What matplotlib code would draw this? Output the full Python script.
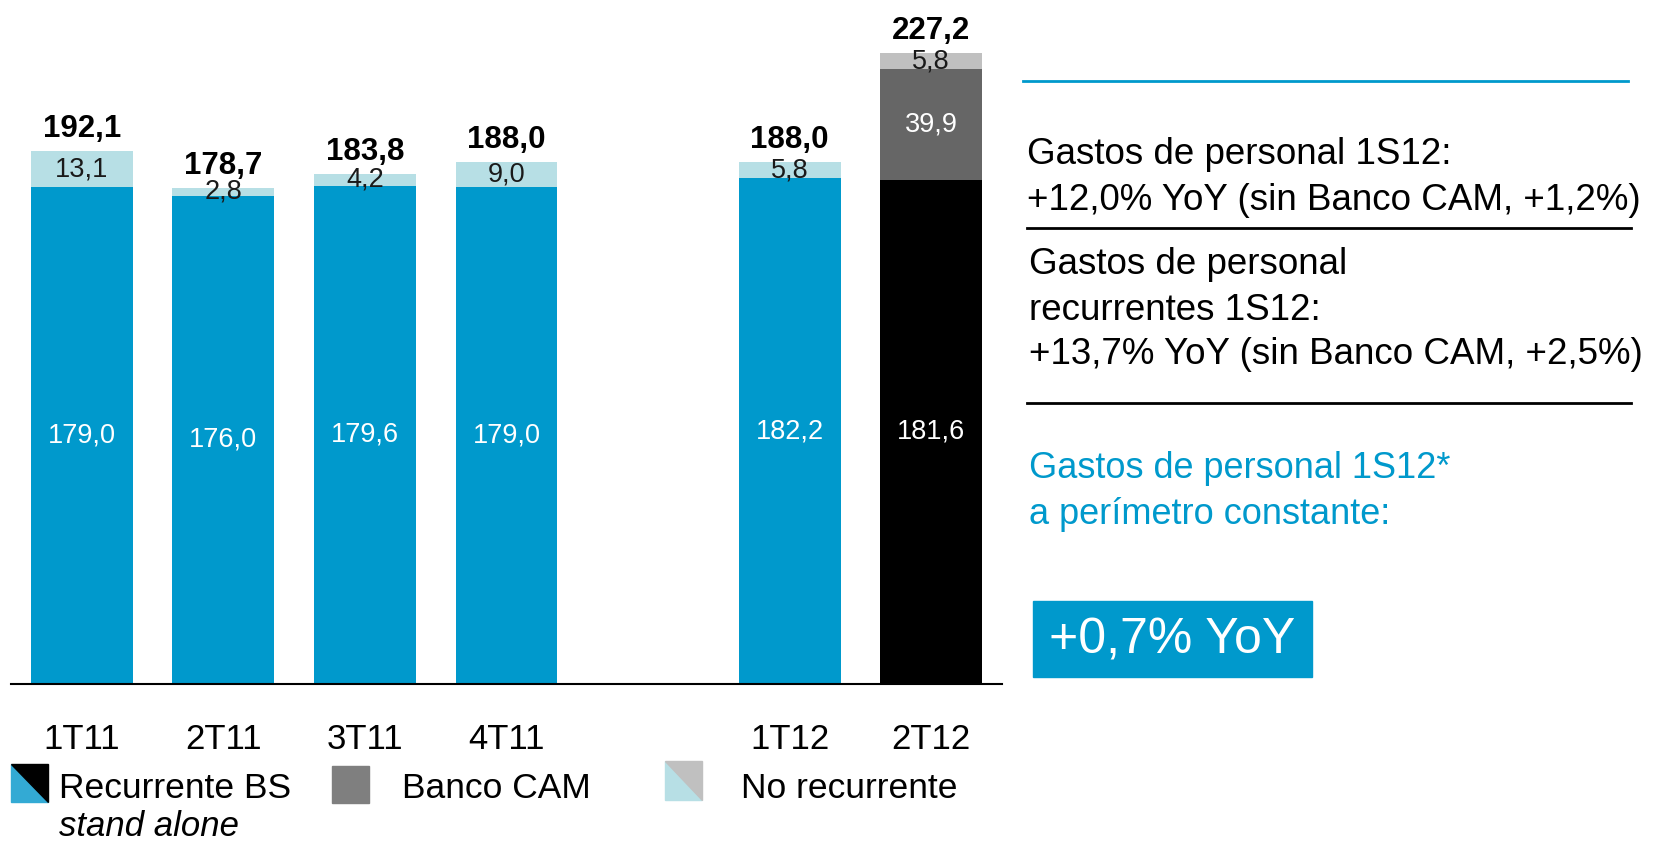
import numpy as np
import matplotlib
matplotlib.use('Agg')
from matplotlib import pyplot as plt
from matplotlib.patches import Polygon, Rectangle

plt.rcParams['font.family'] = ['Liberation Sans', 'DejaVu Sans']

# data
categories = ['1T11', '2T11', '3T11', '4T11', '1T12', '2T12']
positions = [0, 1, 2, 3, 5, 6]
recurrente = [179.0, 176.0, 179.6, 179.0, 182.2, 181.6]
banco_cam = [0, 0, 0, 0, 0, 39.9]
no_recurrente = [13.1, 2.8, 4.2, 9.0, 5.8, 5.8]
totals = [192.1, 178.7, 183.8, 188.0, 188.0, 227.2]

blue = '#0099cc'
light_blue = '#b7dfe5'
grey_cam = '#666666'
light_grey = '#c0c0c0'

W, H = 1668, 846
fig = plt.figure(figsize=(W / 100, H / 100), dpi=100)

ax = fig.add_axes([11 / W, (H - 684) / H, (1002 - 11) / W, 680 / H])
x = np.array(positions)
rec_colors = [blue] * 5 + ['black']
nr_colors = [light_blue] * 5 + [light_grey]
rec = np.array(recurrente)
cam = np.array(banco_cam)
nr = np.array(no_recurrente)

ax.bar(x, rec, width=0.72, color=rec_colors)
ax.bar(x, cam, width=0.72, bottom=rec, color=grey_cam)
ax.bar(x, nr, width=0.72, bottom=rec + cam, color=nr_colors)


def fmt(v):
    return ('%.1f' % v).replace('.', ',')


for i in range(len(x)):
    ax.text(x[i], rec[i] / 2, fmt(rec[i]), ha='center', va='center',
            color='white', fontsize=19.5)
    if cam[i] > 0:
        ax.text(x[i], rec[i] + cam[i] / 2, fmt(cam[i]), ha='center',
                va='center', color='white', fontsize=19.5)
    ax.text(x[i], rec[i] + cam[i] + nr[i] / 2, fmt(nr[i]), ha='center',
            va='center', color='#1a1a1a', fontsize=19.5)
    ax.text(x[i], totals[i] + 8, fmt(totals[i]), ha='center',
            va='center', color='black', fontsize=22.5, fontweight='bold')

ax.set_xlim(-0.5, 6.5)
ax.set_ylim(0, 245)
for s in ['top', 'right', 'left']:
    ax.spines[s].set_visible(False)
ax.spines['bottom'].set_linewidth(1.5)
ax.set_yticks([])
ax.set_xticks(x)
ax.set_xticklabels(categories, fontsize=25)
ax.tick_params(axis='x', length=0, pad=28)

# overlay in pixel coords for legend and side notes
ov = fig.add_axes([0, 0, 1, 1])
ov.set_xlim(0, W)
ov.set_ylim(H, 0)
ov.axis('off')

# legend
ov.add_patch(Polygon([[11, 764], [11, 802], [48, 802]], color='#33aad4'))
ov.add_patch(Polygon([[11, 764], [48, 764], [48, 802]], color='black'))
ov.text(59, 789, 'Recurrente BS', fontsize=25.5, va='center')
ov.text(59, 826, 'stand alone', fontsize=25, va='center', style='italic')
ov.add_patch(Rectangle((332, 766), 37, 37, color='#7f7f7f'))
ov.text(402, 789, 'Banco CAM', fontsize=25.5, va='center')
ov.add_patch(Polygon([[665, 761], [665, 800], [702, 800]], color=light_blue))
ov.add_patch(Polygon([[665, 761], [702, 761], [702, 800]], color=light_grey))
ov.text(741, 789, 'No recurrente', fontsize=25.5, va='center')

# side notes
ov.plot([1023, 1628], [81, 81], color=blue, lw=2)
ov.text(1027, 155, 'Gastos de personal 1S12:', fontsize=26.5, va='center')
ov.text(1027, 200, '+12,0% YoY (sin Banco CAM, +1,2%)', fontsize=26.5, va='center')
ov.plot([1027, 1631], [228, 228], color='black', lw=2)
ov.text(1029, 265, 'Gastos de personal', fontsize=26.5, va='center')
ov.text(1029, 310, 'recurrentes 1S12:', fontsize=26.5, va='center')
ov.text(1029, 354, '+13,7% YoY (sin Banco CAM, +2,5%)', fontsize=26.5, va='center')
ov.plot([1027, 1631], [403, 403], color='black', lw=2)
ov.text(1029, 469, 'Gastos de personal 1S12*', fontsize=26, va='center', color=blue)
ov.text(1029, 514, 'a perímetro constante:', fontsize=26, va='center', color=blue)
ov.add_patch(Rectangle((1033, 601), 279, 76, color=blue))
ov.text(1172, 640, '+0,7% YoY', fontsize=36, va='center', ha='center', color='white')

fig.savefig('out.png', dpi=100)
